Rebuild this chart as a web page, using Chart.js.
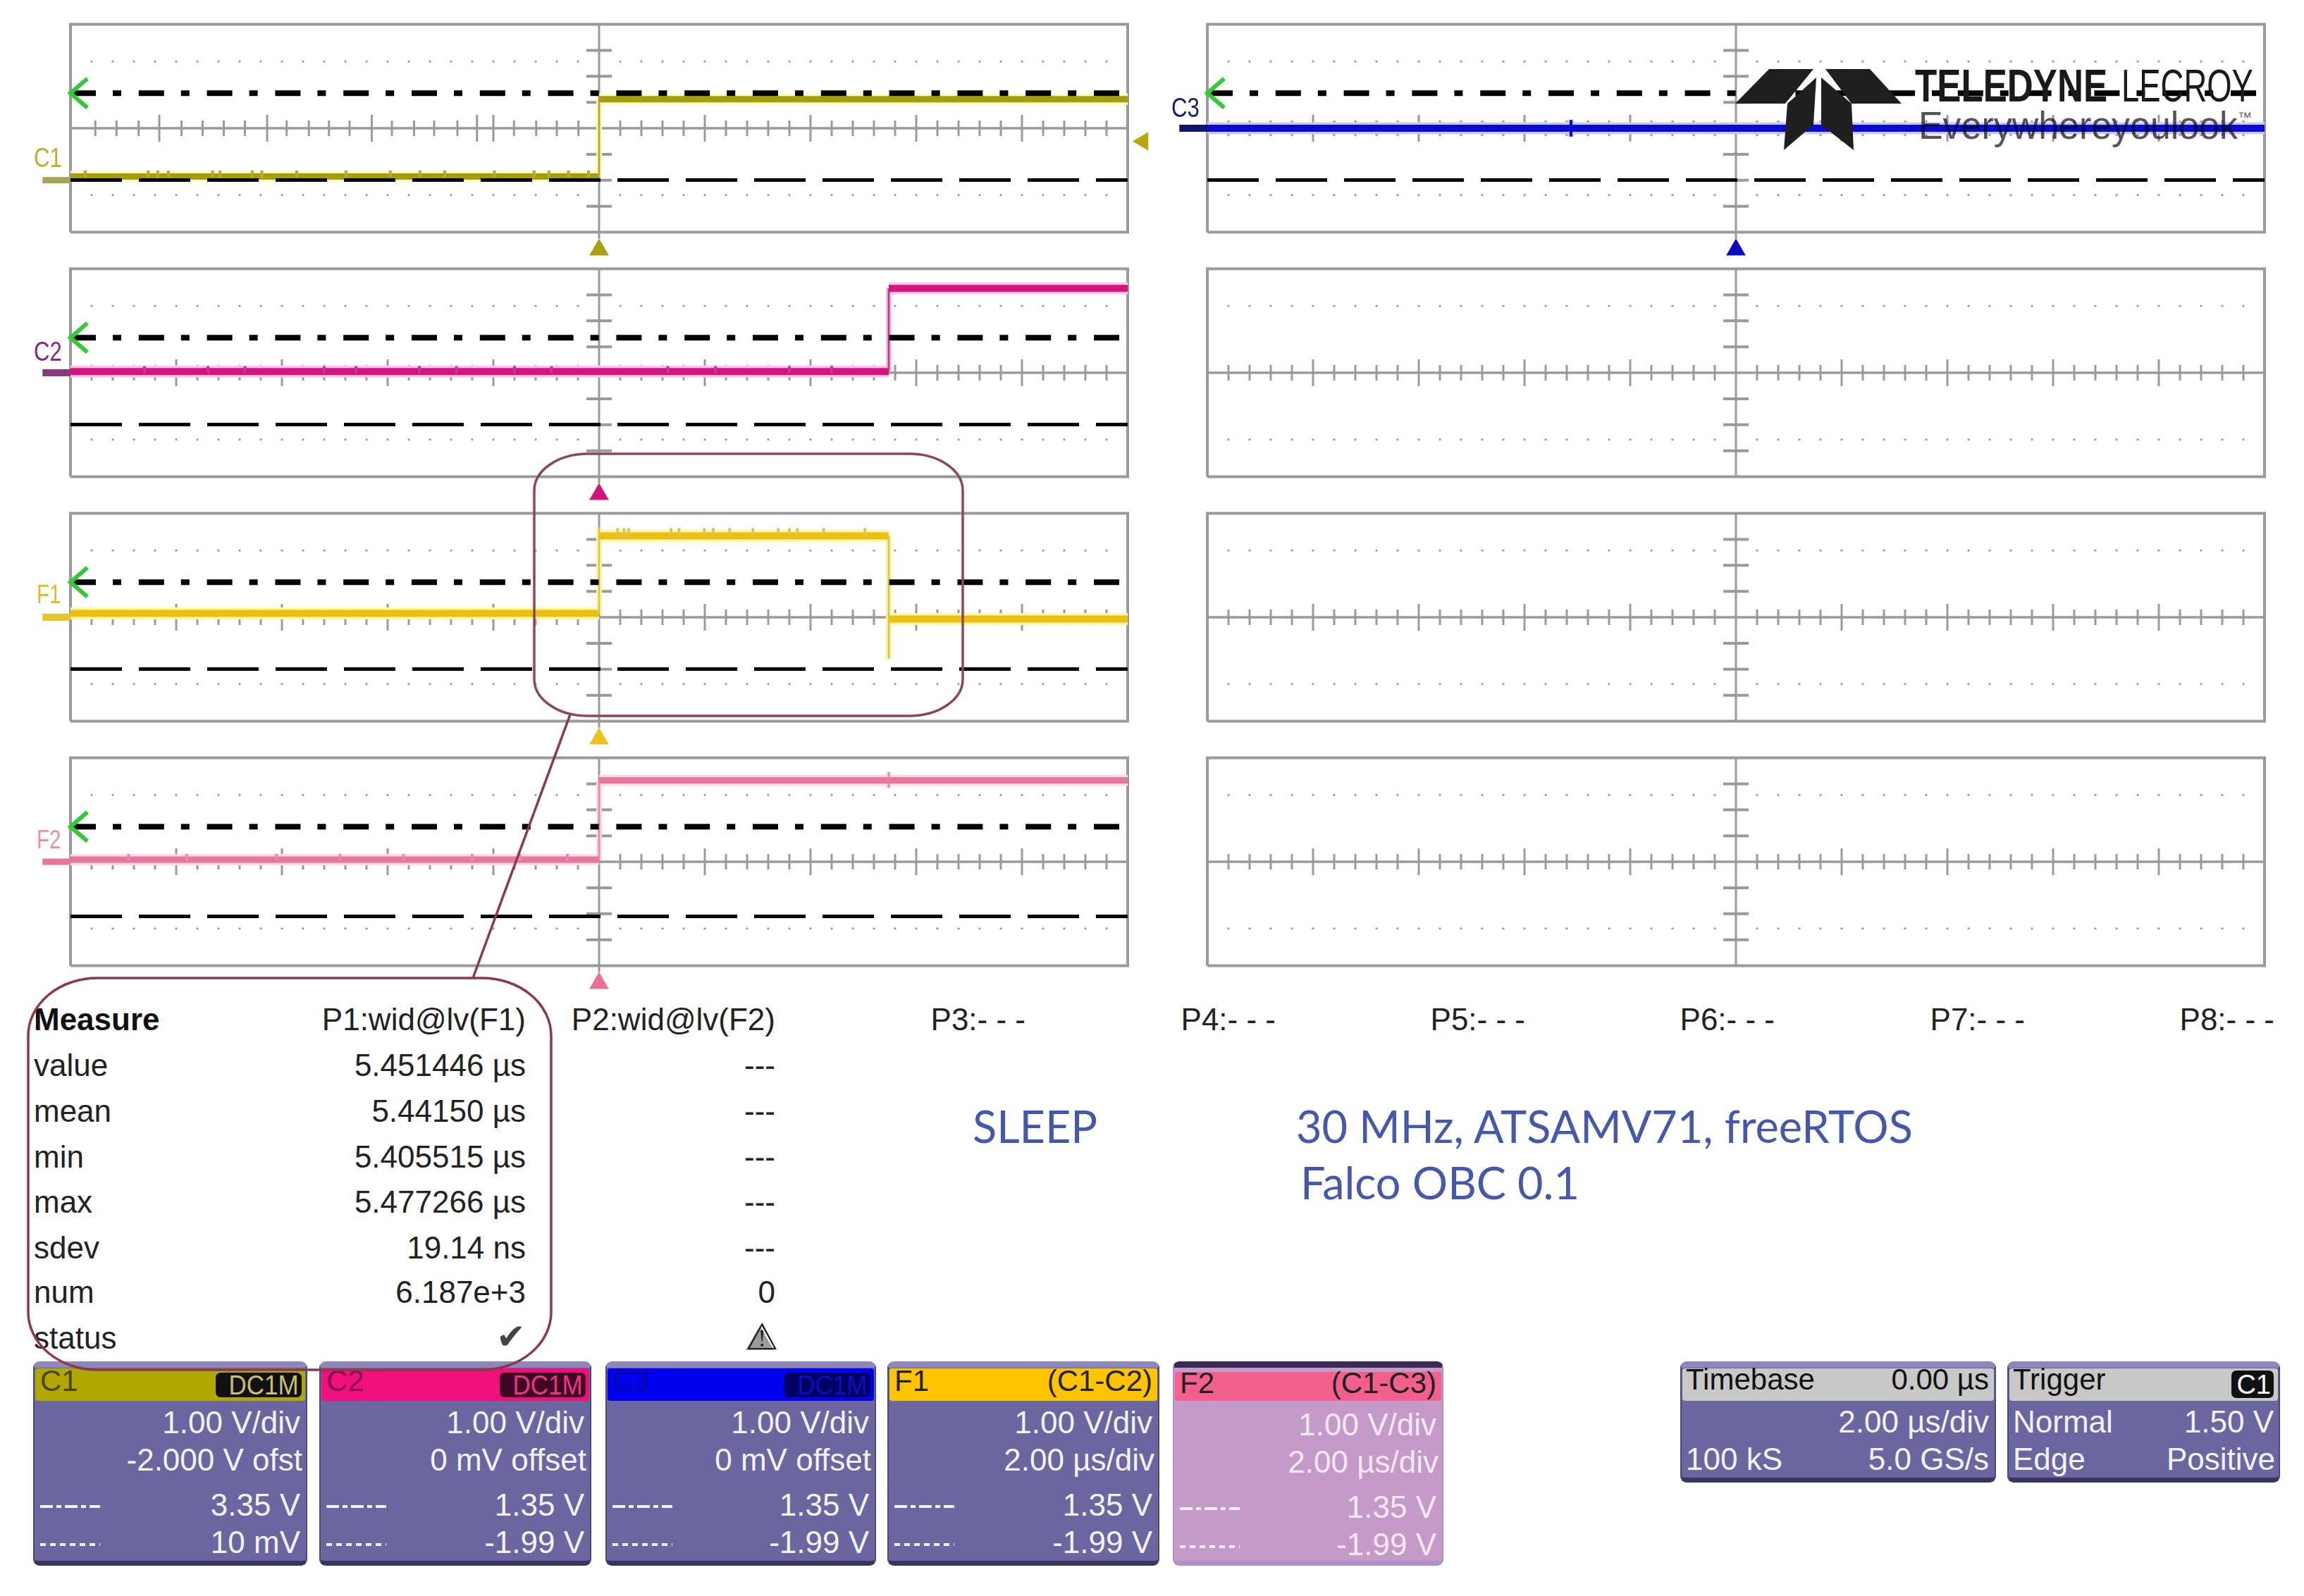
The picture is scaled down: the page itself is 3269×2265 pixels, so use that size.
<!DOCTYPE html>
<html>
<head>
<meta charset="utf-8">
<title>Falco OBC scope capture</title>
<script src="https://cdn.jsdelivr.net/npm/chart.js@4/dist/chart.umd.min.js"></script>
<style>
html { background:#fff; }
html, body { margin:0; padding:0; width:3269px; height:2265px; overflow:hidden; }
body { position:relative; font-family:"Liberation Sans", Arial, sans-serif; color:#222; }
canvas { position:absolute; display:block; }
.t { position:absolute; white-space:nowrap; line-height:1; }
.box { position:absolute; box-sizing:border-box; border-radius:9px; background:#6c66a0; border:2px solid #4d4880; border-top:9px solid #8d88b8; border-bottom:7px solid #3a3560; }
.box.f2 { background:#c49ac8; border-color:#b58cc0; border-top:9px solid #3a2a5a; border-bottom:7px solid #b090c8; }
.bar { position:absolute; }
.badge { position:absolute; border-radius:7px; background:#111; }
#overlay { position:absolute; left:0; top:0; }
</style>
</head>
<body>
<svg id="overlay" width="3269" height="2265"></svg>
<script>
// ---- graticule, in us and divisions
const xMajorTicks  = [-8,-6,-4,-2,2,4,6,8];
const xMinorTicks  = [-9.6,-9.2,-8.8,-8.4,-7.6,-7.2,-6.8,-6.4,-5.6,-5.2,-4.8,-4.4,-3.6,-3.2,-2.8,-2.4,-1.6,-1.2,-0.8,-0.4,
                      0.4,0.8,1.2,1.6,2.4,2.8,3.2,3.6,4.4,4.8,5.2,5.6,6.4,6.8,7.2,7.6,8.4,8.8,9.2,9.6];
const c1MajorTicks = [-8.32,-6.28,-4.30,-2.31,-2,2,4,6,8];
const c1MinorTicks = [-9.53,-9.13,-8.71,-7.90,-7.50,-7.10,-6.70,-5.91,-5.49,-5.11,-4.72,-3.92,-3.50,-3.12,-2.68,-1.61,-1.19,-0.80,-0.39,
                      0.4,0.8,1.2,1.6,2.4,2.8,3.2,3.6,4.4,4.8,5.2,5.6,6.4,6.8,7.2,7.6,8.4,8.8,9.2,9.6];
const yTicks  = [-3,-2,-1,1,2,3];
const dotRows = [-2.57,2.57];

// ---- traces: time (us) and volts
const c1Time  = [-10,0,0,10];
const c1Volts = [0.14,0.14,3.12,3.12];
const c1Noise = [-9.72,-8.53,-8.35,-8.15,-7.31,-7.17,-6.56,-6.38,-5.72,-4.79,-3.95,-3.39,-2.92,-1.98,-1.23,-0.95,-0.58,-0.2];
const c2Time  = [-10,5.48,5.48,10];
const c2Volts = [0.05,0.05,3.25,3.25];
const c2Noise = [-8.6,-7.4,-6.7,-5.2,-4.6,-3.4,-2.7,-1.6,-0.9,1.3,2.2,3.6,4.4];
const c3Time  = [-10,-3.12,-3.12,-3.12,-3.12,10];
const c3Volts = [0,0,0.32,-0.32,0,0];
const f1Time  = [-10,0,0,0,5.48,5.48,5.48,10];
const f1Volts = [0.15,0.15,3.45,3.13,3.13,-1.6,-0.07,-0.07];
const f1Noise = [0.35,0.47,0.56,1.36,1.51,1.99,2.16,2.47,2.91,3.39,3.6,3.75,4.25,5.03];
const f2Time  = [-10,0,0,5.48,5.48,5.48,5.48,10];
const f2Volts = [0.08,0.08,3.13,3.13,3.45,2.85,3.13,3.13];
const f2Noise = [-8.9,-7.8,-6.1,-4.9,-3.7,-2.4,-1.5,-0.6];

const c1Cursors = [3.35,0.01];
const stdCursors = [1.35,-1.99];
const f2Cursors = [1.35,-2.1];
const c1Center = 2;     // -2.000 V offset at 1 V/div
const stdCenter = 0;
const triggerLevel = [1.5];

// ---- readout text
const measureRows = ['value','mean','min','max','sdev','num','status'];
const p1Values = ['5.451446 µs','5.44150 µs','5.405515 µs','5.477266 µs','19.14 ns','6.187e+3'];
const p2Values = ['---','---','---','---','---','0'];
const emptyParams = ['P3:- - -','P4:- - -','P5:- - -','P6:- - -','P7:- - -','P8:- - -'];

const GRID = '#9a9a9a';
const DIV_PX = 36.875;
const US_PX = 75;
const CANVAS_W = 1620, CANVAS_H = 347, ABOVE = 165, BELOW = 182;

function pts(xs, ys) { return xs.map((x, i) => ({ x, y: ys[i] })); }
function atY(xs, y)  { return xs.map(x => ({ x, y })); }
function atX(ys, x)  { return ys.map(y => ({ x, y })); }

function graticule(yc, major, minor, axisDrop) {
    const allDots = xMajorTicks.concat(xMinorTicks);
    const thin = { showLine:false, pointStyle:'line', pointRotation:90, pointBorderColor:GRID, pointBorderWidth:3 };
    return [
        { data: atY(major, yc), ...thin, pointRadius:19 },
        { data: atY(minor, yc), ...thin, pointRadius:11 },
        { data: atX(yTicks.map(v => v + yc), 0), showLine:false, pointStyle:'line', pointBorderColor:GRID, pointBorderWidth:4, pointRadius:18 },
        { data: pts([-10,10], [yc,yc]), borderColor:GRID, borderWidth:3.5, pointRadius:0 },
        { data: pts([0,0], [yc-4-axisDrop,yc+4]), borderColor:GRID, borderWidth:3, pointRadius:0 },
        { data: pts([-10,10,10,-10,-10], [yc-4,yc-4,yc+4,yc+4,yc-4]), borderColor:GRID, borderWidth:4, pointRadius:0 },
        { data: atY(allDots, yc + dotRows[0]), showLine:false, pointStyle:'rect', pointRadius:2, pointBackgroundColor:'#999', pointBorderWidth:0 },
        { data: atY(allDots, yc + dotRows[1]), showLine:false, pointStyle:'rect', pointRadius:2, pointBackgroundColor:'#999', pointBorderWidth:0 }
    ];
}

function cursorSets(levels) {
    return [
        { data: pts([-9.68,-10,-9.68], [levels[0]+0.56,levels[0],levels[0]-0.56]), borderColor:'#33c93a', borderWidth:6, pointRadius:0 },
        { data: pts([-10,10], [levels[0],levels[0]]), borderColor:'#000', borderWidth:8, borderDash:[36,24,12,24.8], pointRadius:0 },
        { data: pts([-10,10], [levels[1],levels[1]]), borderColor:'#000', borderWidth:5, borderDash:[73,24], pointRadius:0 }
    ];
}

function traceSets(tr) {
    const vertical = c => c.p0.parsed.x === c.p1.parsed.x;
    const line = pts(tr.time, tr.volts);
    const out = [];
    if (tr.noise) {
        out.push({ data: atY(tr.noise, tr.noiseLevel), showLine:false, pointStyle:'line', pointRotation:90,
                   pointBorderColor:tr.edgeColor, pointBorderWidth:4, pointRadius:5 });
    }
    out.push({ data: line, borderColor:tr.color, pointRadius:0,
               segment:{ borderWidth: c => vertical(c) ? tr.edge : tr.thick, borderColor: c => vertical(c) ? tr.edgeColor : tr.color } });
    out.push({ data: pts([-10.53,-10], [tr.ground,tr.ground]), borderColor:tr.stub, borderWidth:tr.thick, pointRadius:0 });
    out.push({ data: line, borderColor:tr.halo, pointRadius:0,
               segment:{ borderWidth: c => vertical(c) ? tr.edge + 5 : tr.thick + 7 } });
    return out;
}

function addPanel(id, left, top, yc, sets) {
    const cv = document.createElement('canvas');
    cv.id = id;
    cv.width = CANVAS_W; cv.height = CANVAS_H;
    cv.style.left = left + 'px'; cv.style.top = top + 'px';
    document.body.appendChild(cv);
    new Chart(cv, {
        type: 'line',
        data: { datasets: sets },
        options: {
            responsive:false, animation:false, devicePixelRatio:1,
            events:[],
            layout:{ padding:0, autoPadding:false },
            plugins:{ legend:{ display:false }, tooltip:{ enabled:false } },
            elements:{ line:{ tension:0, borderCapStyle:'butt', borderJoinStyle:'miter' } },
            scales:{
                x:{ type:'linear', display:false, min:-CANVAS_W/2/US_PX, max:CANVAS_W/2/US_PX },
                y:{ type:'linear', display:false, min:yc-BELOW/DIV_PX, max:yc+ABOVE/DIV_PX }
            }
        }
    });
}

function marker(yc, color) {
    return { data:[{ x:0, y:yc-4.68 }], showLine:false, pointStyle:'triangle', pointRadius:16,
             pointBackgroundColor:color, pointBorderColor:color, pointBorderWidth:0 };
}

const leftX = 850 - CANVAS_W/2, rightX = 2463 - CANVAS_W/2;
const rowCenter = [181.5, 528.5, 875.5, 1222.5];
const topOf = i => rowCenter[i] - ABOVE;

addPanel('scopeC1', leftX, topOf(0), c1Center, [
    { data: pts([10.29],triggerLevel), showLine:false, pointStyle:'triangle', pointRotation:-90, pointRadius:15,
      pointBackgroundColor:'#b8a80a', pointBorderWidth:0 },
    ...cursorSets(c1Cursors),
    ...traceSets({ time:c1Time, volts:c1Volts, noise:c1Noise, noiseLevel:0.24, ground:0, color:'#a59e0c', edgeColor:'#b5ad2c', stub:'#a8a45a', halo:'#fdfbc4', thick:9, edge:3 }),
    marker(c1Center,'#a8a010'),
    ...graticule(c1Center, c1MajorTicks, c1MinorTicks, 0.25)
]);
addPanel('scopeC2', leftX, topOf(1), stdCenter, [
    ...cursorSets(stdCursors),
    ...traceSets({ time:c2Time, volts:c2Volts, noise:c2Noise, noiseLevel:0.12, ground:0, color:'#d4147c', edgeColor:'#c03a90', stub:'#8a3a78', halo:'#fbc8ec', thick:10, edge:3 }),
    marker(stdCenter,'#d0147c'),
    ...graticule(stdCenter, xMajorTicks, xMinorTicks, 0.25)
]);
addPanel('scopeF1', leftX, topOf(2), stdCenter, [
    ...cursorSets(stdCursors),
    ...traceSets({ time:f1Time, volts:f1Volts, noise:f1Noise, noiseLevel:3.3, ground:0, color:'#edbf14', edgeColor:'#dcc75a', stub:'#e8c428', halo:'#fdf8a8', thick:10, edge:3 }),
    marker(stdCenter,'#ebc224'),
    ...graticule(stdCenter, xMajorTicks, xMinorTicks, 0.25)
]);
addPanel('scopeF2', leftX, topOf(3), stdCenter, [
    ...cursorSets(f2Cursors),
    ...traceSets({ time:f2Time, volts:f2Volts, noise:f2Noise, noiseLevel:0.17, ground:0, color:'#e8759e', edgeColor:'#e58cb0', stub:'#e8759e', halo:'#fbdbe6', thick:9, edge:3 }),
    marker(stdCenter,'#e8709a'),
    ...graticule(stdCenter, xMajorTicks, xMinorTicks, 0.25)
]);
addPanel('scopeC3', rightX, topOf(0), stdCenter, [
    ...cursorSets(stdCursors),
    ...traceSets({ time:c3Time, volts:c3Volts, ground:0, color:'#0a0ad2', edgeColor:'#0a0ad2', stub:'#14146e', halo:'#c8c8fa', thick:10, edge:4 }),
    marker(stdCenter,'#0a0ac0'),
    ...graticule(stdCenter, xMajorTicks, xMinorTicks, 0.25)
]);
addPanel('scopeZ2', rightX, topOf(1), stdCenter, graticule(stdCenter, xMajorTicks, xMinorTicks, 0));
addPanel('scopeZ3', rightX, topOf(2), stdCenter, graticule(stdCenter, xMajorTicks, xMinorTicks, 0));
addPanel('scopeZ4', rightX, topOf(3), stdCenter, graticule(stdCenter, xMajorTicks, xMinorTicks, 0));

// ---- text helpers
function text(str, x, y, size, o) {
    o = o || {};
    const d = document.createElement('div');
    d.className = 't';
    d.textContent = str;
    d.style.fontSize = size + 'px';
    d.style.top = y + 'px';
    if (o.right) { d.style.right = (3269 - x) + 'px'; } else { d.style.left = x + 'px'; }
    d.style.color = o.color || '#222';
    if (o.bold) d.style.fontWeight = 'bold';
    if (o.font) d.style.fontFamily = o.font;
    const sx = o.sx || 1;
    d.style.transformOrigin = o.right ? 'right center' : 'left center';
    d.style.transform = 'translateY(-50%) scaleX(' + sx + ')';
    d.style.zIndex = o.z === undefined ? 5 : o.z;
    if (o.blend) d.style.mixBlendMode = o.blend;
    document.body.appendChild(d);
    return d;
}

// channel labels beside the panels
text('C1', 48, 224, 38, { color:'#b9b02e', sx:0.82 });
text('C2', 48, 499, 38, { color:'#8c2b7e', sx:0.82 });
text('C3', 1662, 153, 38, { color:'#1a1a78', sx:0.82 });
text('F1', 52, 844, 36, { color:'#e2bb22', sx:0.82 });
text('F2', 52, 1192, 36, { color:'#e78fb0', sx:0.82 });

// measurement table
text('Measure', 48, 1447, 44, { bold:true, color:'#111' });
text('P1:wid@lv(F1)', 746, 1447, 44, { right:true });
text('P2:wid@lv(F2)', 1100, 1447, 44, { right:true });
const paramRights = [1455,1810,2164,2518,2873,3227];
emptyParams.forEach((p, i) => text(p, paramRights[i], 1447, 44, { right:true }));
const rowY = [1512,1577,1642,1706,1771,1834,1899];
measureRows.forEach((r, i) => text(r, 48, rowY[i], 44));
p1Values.forEach((v, i) => text(v, 746, rowY[i], 44, { right:true }));
p2Values.forEach((v, i) => text(v, 1100, rowY[i], 44, { right:true }));
text('✔', 746, 1897, 50, { right:true, color:'#444', font:'"DejaVu Sans"' });
text('⚠', 1104, 1897, 52, { right:true, color:'#222', font:'"DejaVu Sans"', z:7 });

// annotations typed on the capture
text('SLEEP', 1380, 1597, 63, { color:'#4658ab', font:'Lato' });
text('30 MHz, ATSAMV71, freeRTOS', 1839, 1597, 63, { color:'#4658ab', font:'Lato' });
text('Falco OBC 0.1', 1845, 1677, 63, { color:'#4658ab', font:'Lato' });

// ---- readout boxes
function dashSample(x, y, w, pattern) {
    const d = document.createElement('div');
    d.className = 'bar';
    d.style.cssText += 'left:' + x + 'px;top:' + y + 'px;width:' + w + 'px;height:4px;z-index:5;' +
        'background:repeating-linear-gradient(90deg,' + pattern + ')';
    document.body.appendChild(d);
}

function readout(cfg) {
    const b = document.createElement('div');
    b.className = 'box' + (cfg.f2 ? ' f2' : '');
    b.style.cssText += 'left:' + cfg.x + 'px;top:1932px;width:' + (cfg.r - cfg.x) + 'px;height:' + cfg.h + 'px';
    document.body.appendChild(b);
    const bar = document.createElement('div');
    bar.className = 'bar';
    bar.style.cssText += 'left:' + (cfg.x + 3) + 'px;top:' + (cfg.f2 ? 1947 : 1942) + 'px;width:' + (cfg.r - cfg.x - 6) +
        'px;height:' + (cfg.f2 ? 41 : 46) + 'px;background:' + cfg.head + ';border-radius:4px';
    document.body.appendChild(bar);
}

function channelBox(cfg) {
    readout({ x:cfg.x, r:cfg.r, h:290, head:cfg.head, f2:cfg.f2 });
    const right = cfg.r - 10, left = cfg.x + 10, dy = cfg.dy || 0;
    const white = cfg.f2 ? '#f4e8f6' : '#f2f2f8';
    text(cfg.name, left, 1960 + dy, 42, { color:cfg.nameColor });
    if (cfg.coupling) {
        const bd = document.createElement('div');
        bd.className = 'badge';
        bd.style.cssText += 'left:' + (right - 120) + 'px;top:1948px;width:122px;height:35px;z-index:4;background:' + cfg.badge;
        document.body.appendChild(bd);
        text(cfg.coupling, right - 2, 1966, 38, { right:true, color:cfg.couplingColor, sx:0.92 });
    } else {
        text(cfg.extra, right, 1960 + dy, 42, { right:true, color:'#222' });
    }
    text(cfg.rows[0], right, 2019 + dy, 44, { right:true, color:white });
    text(cfg.rows[1], right + 3, 2072 + dy, 44, { right:true, color:white });
    text(cfg.rows[2], right, 2136 + dy, 44, { right:true, color:white });
    text(cfg.rows[3], right, 2189 + dy, 44, { right:true, color:white });
    dashSample(left, 2136 + dy, 85, '#f2f2f8 0 18px,transparent 18px 23px,#f2f2f8 23px 30px,transparent 30px 35px');
    dashSample(left, 2190 + dy, 85, '#f2f2f8 0 8px,transparent 8px 14px');
}

const c1Rows = ['1.00 V/div','-2.000 V ofst','3.35 V','10 mV'];
const c2Rows = ['1.00 V/div','0 mV offset','1.35 V','-1.99 V'];
const c3Rows = ['1.00 V/div','0 mV offset','1.35 V','-1.99 V'];
const f1Rows = ['1.00 V/div','2.00 µs/div','1.35 V','-1.99 V'];
const f2Rows = ['1.00 V/div','2.00 µs/div','1.35 V','-1.99 V'];

channelBox({ x:47, r:436, name:'C1', nameColor:'#4a4600', head:'#b0a800', coupling:'DC1M', badge:'#111', couplingColor:'#c8c070', rows:c1Rows });
channelBox({ x:453, r:839, name:'C2', nameColor:'#8a0a50', head:'#f0107c', coupling:'DC1M', badge:'#40061f', couplingColor:'#e8388c', rows:c2Rows });
channelBox({ x:859, r:1243, name:'C3', nameColor:'#0808a0', head:'#0000f0', coupling:'DC1M', badge:'#000060', couplingColor:'#0d0dc0', rows:c3Rows });
channelBox({ x:1259, r:1645, name:'F1', nameColor:'#222', head:'#ffc400', extra:'(C1-C2)', rows:f1Rows });
channelBox({ x:1664, r:2048, name:'F2', nameColor:'#222', head:'#f4608c', extra:'(C1-C3)', rows:f2Rows, f2:true, dy:3 });

readout({ x:2384, r:2832, h:172, head:'#c8c8c8' });
text('Timebase', 2392, 1958, 42, { color:'#111' });
text('0.00 µs', 2822, 1958, 42, { right:true, color:'#111' });
text('2.00 µs/div', 2822, 2018, 44, { right:true, color:'#f2f2f8' });
text('100 kS', 2392, 2071, 44, { color:'#f2f2f8' });
text('5.0 GS/s', 2822, 2071, 44, { right:true, color:'#f2f2f8' });

readout({ x:2848, r:3235, h:172, head:'#c8c8c8' });
text('Trigger', 2856, 1958, 42, { color:'#111' });
const trigBadge = document.createElement('div');
trigBadge.className = 'badge';
trigBadge.style.cssText += 'left:3166px;top:1945px;width:60px;height:39px;z-index:4';
document.body.appendChild(trigBadge);
text('C1', 3222, 1965, 38, { right:true, color:'#fff' });
text('Normal', 2856, 2018, 44, { color:'#f2f2f8' });
text('1.50 V', 3226, 2018, 44, { right:true, color:'#f2f2f8' });
text('Edge', 2856, 2071, 44, { color:'#f2f2f8' });
text('Positive', 3228, 2071, 44, { right:true, color:'#f2f2f8' });

// logo wordmark, the tagline blends with the blue trace
text('TELEDYNE', 2717, 122, 64, { bold:true, color:'#1a1a1a', sx:0.8 });
text('LECROY', 3010, 122, 64, { color:'#1a1a1a', sx:0.71 });
text('Everywhereyoulook', 2722, 178, 56, { color:'#555', sx:0.927, blend:'multiply' });
text('™', 3175, 166, 20, { color:'#555' });

// ---- hand drawn callouts and logo shape
const svg = document.getElementById('overlay');
svg.style.zIndex = 6;
svg.innerHTML =
    '<rect x="758" y="644" width="608" height="372" rx="76" ry="52" fill="none" stroke="#8a4a55" stroke-width="3.5"/>' +
    '<rect x="40" y="1388" width="742" height="556" rx="98" ry="82" fill="none" stroke="#8a3a4a" stroke-width="3.5"/>' +
    '<line x1="809" y1="1014" x2="671" y2="1388" stroke="#8a3a4a" stroke-width="3.5"/>' +
    '<polygon points="1078,1882 1058,1916 1098,1916" fill="#9c9c9c"/>' +
    '<g fill="#1f1f1f">' +
    '<polygon points="2510,98 2573,98 2533,147 2462,147"/>' +
    '<polygon points="2590,98 2653,98 2698,147 2627,147"/>' +
    '<polygon points="2577,110 2536,147 2531,213 2573,177"/>' +
    '<polygon points="2584,110 2627,147 2630,213 2584,177"/>' +
    '</g>';
</script>
</body>
</html>
